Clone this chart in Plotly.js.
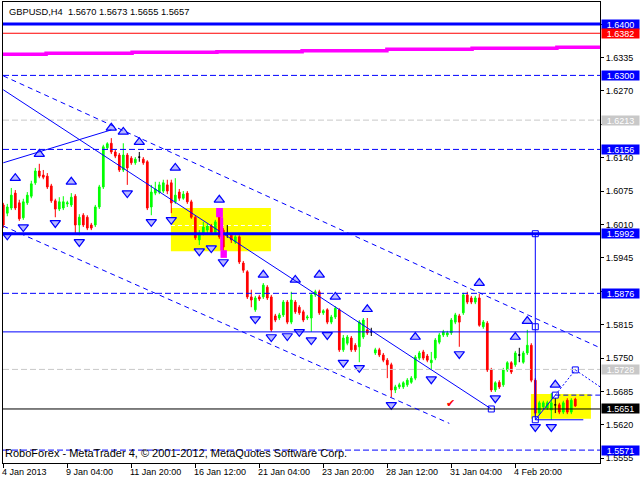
<!DOCTYPE html>
<html><head><meta charset="utf-8">
<script src="https://cdn.plot.ly/plotly-3.0.1.min.js"></script>
<style>html,body{margin:0;padding:0;background:#fff;}#chart{width:640px;height:480px;}</style>
</head><body><div id="chart"></div>
<script>
// ---------------- DATA ----------------
const symbolName = "GBPUSD,H4";
const copyrightText = "RoboForex - MetaTrader 4, \u00a9 2001-2012, MetaQuotes Software Corp.";

const openP = [1.6048,1.6032,1.6042,1.6071,1.6052,1.6023,1.6052,1.6065,1.6091,1.6114,
1.6106,1.6104,1.6085,1.6056,1.6040,1.6042,1.6050,1.6048,1.6065,1.6009,
1.6028,1.6024,1.6009,1.6009,1.6044,1.6083,1.6159,1.6168,1.6151,1.6145,
1.6116,1.6145,1.6139,1.6130,1.6141,1.6137,1.6132,1.6044,1.6071,1.6073,
1.6075,1.6087,1.6091,1.6054,1.6073,1.6061,1.6071,1.6054,1.6024,1.5980,
1.5993,1.5999,1.6007,1.5995,1.6038,1.5999,1.5993,1.5989,1.5976,1.5986,
1.5935,1.5918,1.5869,1.5844,1.5869,1.5869,1.5888,1.5869,1.5832,1.5828,
1.5834,1.5859,1.5820,1.5859,1.5849,1.5840,1.5828,1.5828,1.5873,1.5879,
1.5838,1.5844,1.5820,1.5830,1.5844,1.5766,1.5779,1.5789,1.5775,1.5772,
1.5791,1.5805,1.5801,1.5760,1.5766,1.5756,1.5746,1.5737,1.5688,1.5694,
1.5694,1.5698,1.5703,1.5711,1.5750,1.5762,1.5754,1.5741,1.5750,1.5781,
1.5795,1.5795,1.5799,1.5820,1.5832,1.5838,1.5873,1.5867,1.5859,1.5867,
1.5811,1.5818,1.5727,1.5688,1.5703,1.5698,1.5727,1.5741,1.5737,1.5756,
1.5742,1.5760,1.5775,1.5707,1.5643,1.5655,1.5653,1.5649,1.5659,1.5659,
1.5645,1.5668,1.5645,1.5670];
const highP = [1.6052,1.6050,1.6081,1.6077,1.6058,1.6060,1.6073,1.6095,1.6120,1.6128,
1.6116,1.6110,1.6089,1.6060,1.6063,1.6065,1.6056,1.6071,1.6069,1.6030,
1.6032,1.6028,1.6013,1.6048,1.6087,1.6165,1.6170,1.6178,1.6155,1.6149,
1.6168,1.6149,1.6143,1.6141,1.6151,1.6141,1.6135,1.6087,1.6093,1.6093,
1.6097,1.6097,1.6097,1.6100,1.6079,1.6075,1.6075,1.6058,1.6028,1.5999,
1.6015,1.6011,1.6011,1.6019,1.6042,1.6003,1.6009,1.5993,1.5989,1.5989,
1.5939,1.5921,1.5883,1.5871,1.5873,1.5896,1.5892,1.5873,1.5836,1.5838,
1.5863,1.5863,1.5879,1.5863,1.5853,1.5844,1.5834,1.5877,1.5883,1.5883,
1.5845,1.5847,1.5834,1.5851,1.5847,1.5795,1.5795,1.5793,1.5779,1.5824,
1.5828,1.5828,1.5809,1.5770,1.5770,1.5760,1.5750,1.5741,1.5698,1.5702,
1.5705,1.5711,1.5715,1.5756,1.5764,1.5766,1.5758,1.5762,1.5789,1.5799,
1.5805,1.5803,1.5828,1.5838,1.5836,1.5877,1.5879,1.5871,1.5871,1.5875,
1.5824,1.5822,1.5731,1.5705,1.5707,1.5731,1.5744,1.5744,1.5764,1.5770,
1.5764,1.5805,1.5779,1.5711,1.5667,1.5667,1.5667,1.5682,1.5674,1.5663,
1.5667,1.5672,1.5672,1.5673];
const lowP = [1.6003,1.6026,1.6038,1.6038,1.6017,1.6019,1.6048,1.6061,1.6087,1.6100,
1.6098,1.6079,1.6052,1.6024,1.6036,1.6038,1.6044,1.6044,1.5993,1.5989,
1.6005,1.5999,1.5999,1.6005,1.6040,1.6079,1.6155,1.6147,1.6139,1.6112,
1.6112,1.6087,1.6126,1.6126,1.6132,1.6126,1.6038,1.6028,1.6067,1.6069,
1.6071,1.6069,1.6032,1.6050,1.6056,1.6058,1.6050,1.6021,1.5980,1.5970,
1.5989,1.5993,1.5991,1.5991,1.5982,1.5947,1.5984,1.5974,1.5972,1.5933,
1.5916,1.5865,1.5849,1.5840,1.5861,1.5865,1.5863,1.5801,1.5820,1.5824,
1.5830,1.5816,1.5816,1.5836,1.5834,1.5820,1.5824,1.5801,1.5869,1.5834,
1.5834,1.5816,1.5816,1.5826,1.5762,1.5762,1.5775,1.5762,1.5762,1.5742,
1.5787,1.5795,1.5793,1.5756,1.5752,1.5742,1.5711,1.5674,1.5682,1.5690,
1.5690,1.5694,1.5700,1.5707,1.5746,1.5746,1.5742,1.5727,1.5746,1.5777,
1.5791,1.5791,1.5795,1.5816,1.5772,1.5834,1.5855,1.5855,1.5855,1.5811,
1.5807,1.5723,1.5684,1.5684,1.5690,1.5694,1.5723,1.5719,1.5733,1.5742,
1.5739,1.5756,1.5703,1.5630,1.5639,1.5651,1.5649,1.5630,1.5643,1.5641,
1.5641,1.5641,1.5641,1.5655];
const closeP = [1.6009,1.6044,1.6067,1.6042,1.6021,1.6054,1.6067,1.6089,1.6114,1.6104,
1.6102,1.6083,1.6056,1.6040,1.6054,1.6054,1.6052,1.6063,1.6009,1.6024,
1.6009,1.6003,1.6003,1.6044,1.6083,1.6161,1.6167,1.6151,1.6143,1.6116,
1.6145,1.6120,1.6130,1.6137,1.6141,1.6130,1.6042,1.6073,1.6079,1.6087,
1.6091,1.6075,1.6052,1.6067,1.6061,1.6069,1.6054,1.6024,1.5984,1.5993,
1.6005,1.6007,1.5995,1.6015,1.5986,1.5966,1.5993,1.5980,1.5986,1.5937,
1.5921,1.5869,1.5863,1.5867,1.5865,1.5892,1.5867,1.5805,1.5824,1.5834,
1.5859,1.5820,1.5863,1.5840,1.5838,1.5824,1.5830,1.5873,1.5879,1.5838,
1.5842,1.5820,1.5830,1.5847,1.5766,1.5789,1.5791,1.5766,1.5766,1.5820,
1.5824,1.5799,1.5801,1.5766,1.5756,1.5746,1.5737,1.5688,1.5694,1.5698,
1.5702,1.5707,1.5711,1.5752,1.5760,1.5750,1.5746,1.5746,1.5785,1.5795,
1.5801,1.5799,1.5824,1.5834,1.5820,1.5873,1.5859,1.5859,1.5867,1.5814,
1.5820,1.5727,1.5688,1.5702,1.5694,1.5727,1.5741,1.5723,1.5760,1.5756,
1.5760,1.5775,1.5707,1.5643,1.5663,1.5663,1.5663,1.5663,1.5659,1.5645,
1.5663,1.5645,1.5668,1.5657];

// time axis labels (bar index -> label)
const tickBars   = [0,16,32,48,64,80,96,112,128];
const tickLabels = ["4 Jan 2013","9 Jan 04:00","11 Jan 20:00","16 Jan 12:00","21 Jan 04:00",
                    "23 Jan 20:00","28 Jan 12:00","31 Jan 04:00","4 Feb 20:00"];
// price scale (labels hidden under the coloured price tags are blank)
const priceTicks    = [1.6400,1.6335,1.6270,1.6205,1.6140,1.6075,1.6010,1.5945,1.5880,1.5815,1.5750,1.5685,1.5620,1.5555];
const priceTickText = ["","1.6335","1.6270","","1.6140","1.6075","1.6010","1.5945","","1.5815","1.5750","1.5685","1.5620","1.5555"];

// horizontal levels
const bluePriceLevels = [1.6400,1.6300,1.6156,1.5992,1.5876,1.5571];
const redPriceLevels = [1.6382];
const grayPriceLevels = [1.6213,1.5728];
const bidLevel = [1.5651];
const plainLevel = [1.5801];

// fractals
const fracUpBar   = [3,9,17,27,30,34,43,54,65,73,79,83,91,103,119,128,131,138];
const fracUpPrice = [1.6100,1.6147,1.6093,1.6198,1.6190,1.6170,1.6120,1.6058,1.5912,1.5902,1.5912,1.5869,1.5845,1.5791,1.5896,1.5791,1.5822,1.5698];
const fracDnBar   = [1,5,13,19,31,37,42,49,52,55,63,67,71,74,77,81,85,89,97,107,114,123,133,137];
const fracDnPrice = [1.5989,1.6005,1.6013,1.5976,1.6071,1.6015,1.6019,1.5958,1.5964,1.5937,1.5826,1.5791,1.5793,1.5801,1.5785,1.5795,1.5741,1.5731,1.5659,1.5709,1.5758,1.5672,1.5616,1.5616];

// magenta stepped line
const magentaBar   = [-0.1,10.7,32.2,53.4,74.7,95.9,117.2,138.4,149.2];
const magentaPrice = [1.6341,1.6343,1.6345,1.6346,1.6348,1.6351,1.6353,1.6355,1.6355];

// trend lines [bar0, price0, bar1, price1]
const channelDashed = [[0,1.6299,149.2,1.5770],[0,1.6007,111.5,1.5623]];
const trendSolid = [[0,1.6272,122,1.5651],[0,1.6130,27,1.6194],[133,1.5992,133,1.5630],[133,1.5630,138,1.5678],[133,1.5630,145,1.5630]];
const forecastDotted = [[138,1.5678,143,1.5727],[143,1.5727,149.2,1.5694]];
const forecastDashed = [[138,1.5678,149.2,1.5678]];
const anchorBar   = [122,133,133,133,138,143];
const anchorPrice = [1.5651,1.5992,1.5811,1.5630,1.5678,1.5727];

// rectangles [bar0, price0, bar1, price1]
const yellowBoxes = [[41.9,1.6042,66.9,1.5958],[131.9,1.5680,146.9,1.5632]];
const boxMidLine = [[41.9,1.6008,66.9,1.6008]];
const magentaMarks = [[53.2,1.6042,54.9,1.6024],[54.3,1.5960,55.9,1.5945]];
const magentaStem = [[54.6,1.6024,54.6,1.5960]];
const checkMark = {bar:111.7, price:1.5661};

// ---------------- STYLE ----------------
const FONT = '"Liberation Sans",Arial,sans-serif';
const FS = 9;
const BLUE = '#0000ff', RED = '#ff0000', GREEN = '#00ff00', GRAY = '#c8c8c8', MAG = '#ff00ff';

const bars = openP.map((_, i) => i);
const isDoji = i => openP[i] === closeP[i];
const normIdx = bars.filter(i => !isDoji(i));
const dojiIdx = bars.filter(i => isDoji(i));
const sel = (arr, idx) => idx.map(i => arr[i]);

const traces = [
  {type:'candlestick', x:normIdx, open:sel(openP,normIdx), high:sel(highP,normIdx), low:sel(lowP,normIdx), close:sel(closeP,normIdx),
   increasing:{line:{color:GREEN,width:1}, fillcolor:GREEN}, decreasing:{line:{color:RED,width:1}, fillcolor:RED},
   whiskerwidth:0, hoverinfo:'skip', showlegend:false},
  {type:'candlestick', x:dojiIdx, open:sel(openP,dojiIdx), high:sel(highP,dojiIdx), low:sel(lowP,dojiIdx), close:sel(closeP,dojiIdx),
   increasing:{line:{color:'#000',width:1}, fillcolor:'#000'}, decreasing:{line:{color:'#000',width:1}, fillcolor:'#000'},
   whiskerwidth:0, hoverinfo:'skip', showlegend:false},
  {type:'scatter', mode:'lines', x:magentaBar, y:magentaPrice, line:{color:MAG, width:3.5, shape:'hv'}, hoverinfo:'skip'},
  {type:'scatter', mode:'markers', x:fracUpBar, y:fracUpPrice,
   marker:{symbol:'triangle-up', size:9, color:'#b8b8ff', line:{color:BLUE, width:1.2}}, hoverinfo:'skip'},
  {type:'scatter', mode:'markers', x:fracDnBar, y:fracDnPrice,
   marker:{symbol:'triangle-down', size:9, color:'#b8b8ff', line:{color:BLUE, width:1.2}}, hoverinfo:'skip'},
  {type:'scatter', mode:'markers', x:anchorBar, y:anchorPrice,
   marker:{symbol:'square', size:6, color:'#fff', line:{color:BLUE, width:1}}, hoverinfo:'skip'}
];

const shapes = [];
const hline = (p, color, width, dash) => shapes.push({type:'line', xref:'paper', x0:0, x1:1, yref:'y', y0:p, y1:p, line:{color, width, dash}, layer:'above'});
yellowBoxes.forEach(b => shapes.push({type:'rect', xref:'x', yref:'y', x0:b[0], y0:b[1], x1:b[2], y1:b[3], fillcolor:'#ffff00', line:{width:0}, layer:'below'}));
boxMidLine.forEach(l => shapes.push({type:'line', xref:'x', yref:'y', x0:l[0], y0:l[1], x1:l[2], y1:l[3], line:{color:'#ffffff', width:1, dash:'4px,3px'}, layer:'below'}));
bluePriceLevels.forEach(p => {
  const thick = (p === 1.6400 || p === 1.5992);
  hline(p, BLUE, thick ? 3 : 1, thick ? 'solid' : '6px,3px');
});
redPriceLevels.forEach(p => hline(p, RED, 1, 'solid'));
grayPriceLevels.forEach(p => hline(p, GRAY, 1, '6px,3px'));
bidLevel.forEach(p => hline(p, '#000', 1, 'solid'));
plainLevel.forEach(p => hline(p, BLUE, 1, 'solid'));
channelDashed.forEach(l => shapes.push({type:'line', xref:'x', yref:'y', x0:l[0], y0:l[1], x1:l[2], y1:l[3], line:{color:BLUE, width:1, dash:'5px,4px'}, layer:'above'}));
trendSolid.forEach(l => shapes.push({type:'line', xref:'x', yref:'y', x0:l[0], y0:l[1], x1:l[2], y1:l[3], line:{color:BLUE, width:1}, layer:'above'}));
forecastDotted.forEach(l => shapes.push({type:'line', xref:'x', yref:'y', x0:l[0], y0:l[1], x1:l[2], y1:l[3], line:{color:BLUE, width:1, dash:'2px,2px'}, layer:'above'}));
forecastDashed.forEach(l => shapes.push({type:'line', xref:'x', yref:'y', x0:l[0], y0:l[1], x1:l[2], y1:l[3], line:{color:BLUE, width:1, dash:'5px,3px'}, layer:'above'}));
magentaMarks.forEach(b => shapes.push({type:'rect', xref:'x', yref:'y', x0:b[0], y0:b[1], x1:b[2], y1:b[3], fillcolor:MAG, line:{width:0}, layer:'above'}));
magentaStem.forEach(l => shapes.push({type:'line', xref:'x', yref:'y', x0:l[0], y0:l[1], x1:l[2], y1:l[3], line:{color:MAG, width:3}, layer:'above'}));

const annotations = [];
const tag = (p, bg) => annotations.push({xref:'paper', x:1, xanchor:'left', xshift:1, yref:'y', y:p, yanchor:'middle',
  text:p.toFixed(4), showarrow:false, bgcolor:bg, borderpad:0, width:37, height:9, align:'center',
  font:{family:FONT, size:FS, color:'#ffffff'}});
bluePriceLevels.forEach(p => tag(p, BLUE));
redPriceLevels.forEach(p => tag(p, RED));
grayPriceLevels.forEach(p => tag(p, GRAY));
bidLevel.forEach(p => tag(p, '#000000'));

// time labels, left-aligned at their tick (MetaTrader style)
tickBars.forEach((b, k) => annotations.push({xref:'x', x:b, xanchor:'left', xshift:-2, yref:'paper', y:0, yanchor:'top', yshift:-3,
  showarrow:false, text:tickLabels[k], borderpad:0, font:{family:FONT, size:FS, color:'#000'}}));

const last = openP.length - 1;
annotations.push({xref:'paper', yref:'paper', x:0, y:1, xanchor:'left', yanchor:'top', xshift:4, yshift:-3, showarrow:false,
  text: symbolName + '\u00a0\u00a0' + [openP[last], highP[last], lowP[last], closeP[last]].map(v => v.toFixed(4)).join(' '),
  font:{family:FONT, size:9.3, color:'#000'}});
annotations.push({xref:'paper', yref:'paper', x:0, y:0, xanchor:'left', yanchor:'bottom', xshift:0, yshift:2, showarrow:false,
  text: copyrightText, font:{family:FONT, size:11, color:'#000'}});
annotations.push({xref:'x', yref:'y', x:checkMark.bar, y:checkMark.price, showarrow:false, text:'\u2714',
  font:{family:'DejaVu Sans', size:11, color:RED}});

const layout = {
  width:640, height:480,
  margin:{l:3, r:40, t:2, b:17, pad:0},
  paper_bgcolor:'#ffffff', plot_bgcolor:'#ffffff',
  showlegend:false, boxgap:0.4,
  font:{family:FONT, size:FS, color:'#000'},
  xaxis:{type:'linear', range:[-0.075,149.175], rangeslider:{visible:false}, showgrid:false, zeroline:false,
    showline:true, mirror:true, linecolor:'#000', linewidth:1, ticks:'outside', ticklen:4, tickcolor:'#000',
    tickvals:tickBars, showticklabels:false},
  yaxis:{side:'right', range:[1.554591,1.644280], showgrid:false, zeroline:false,
    showline:true, mirror:true, linecolor:'#000', linewidth:1, ticks:'outside', ticklen:3, tickcolor:'#000',
    tickvals:priceTicks, ticktext:priceTickText, tickfont:{family:FONT, size:FS, color:'#000'}},
  shapes, annotations
};

Plotly.newPlot('chart', traces, layout, {staticPlot:true, displayModeBar:false});
</script>
</body></html>
